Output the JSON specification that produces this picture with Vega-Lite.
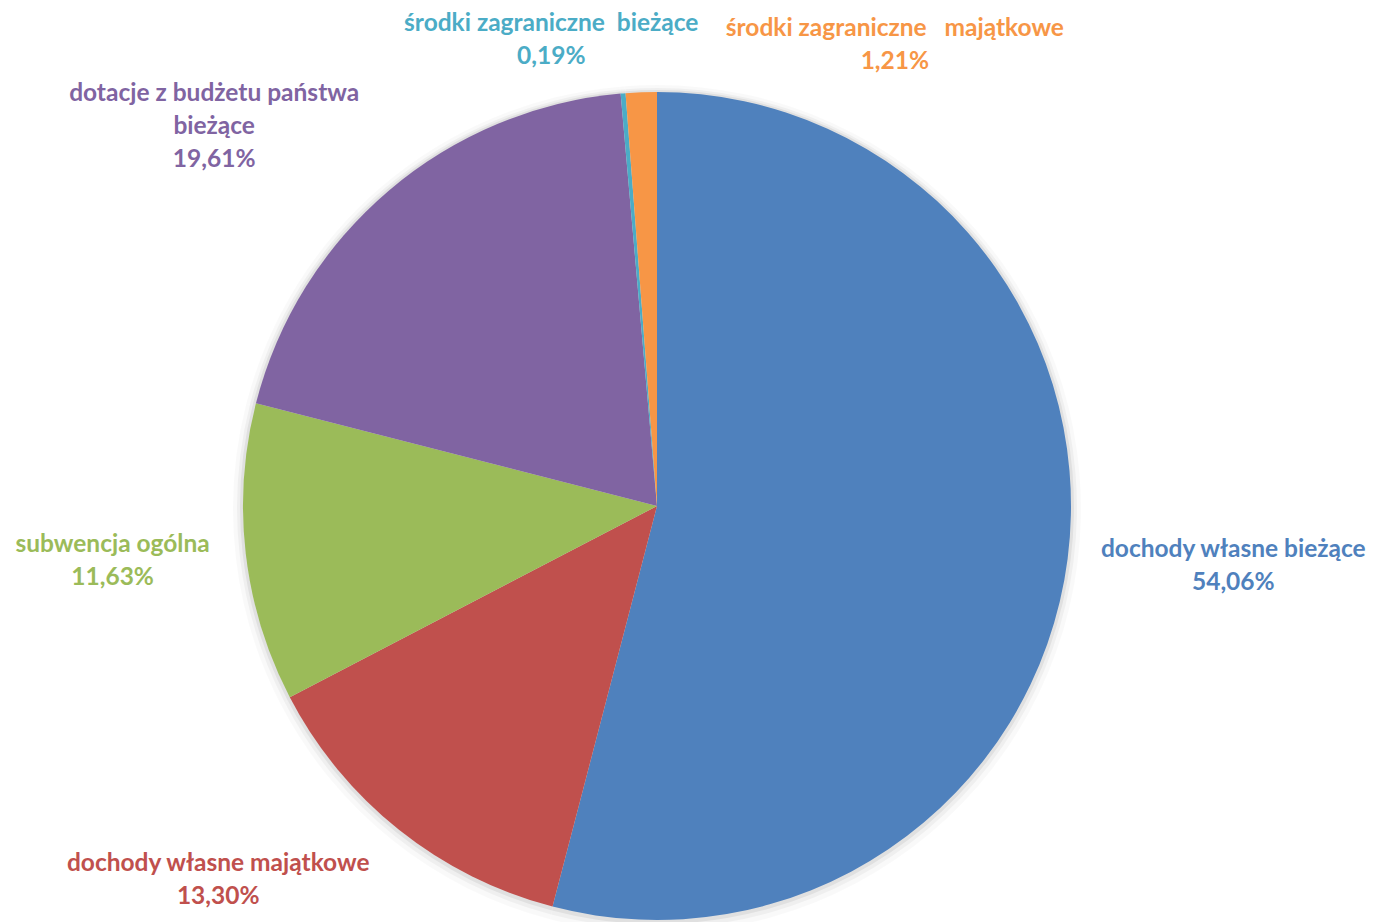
{
  "$schema": "https://vega.github.io/schema/vega-lite/v6.json",
  "autosize": {"type": "none"},
  "width": 828,
  "height": 828,
  "padding": {"left": 243, "top": 92, "right": 302, "bottom": 2},
  "background": "white",
  "config": {"view": {"stroke": null}},
  "data": {"values": [
    {"ord": 1, "cat": "dochody własne bieżące", "value": 54.06, "label": "dochody własne bieżące\n54,06%"},
    {"ord": 2, "cat": "dochody własne majątkowe", "value": 13.30, "label": "dochody własne majątkowe\n13,30%"},
    {"ord": 3, "cat": "subwencja ogólna", "value": 11.63, "label": "subwencja ogólna\n11,63%"},
    {"ord": 4, "cat": "dotacje z budżetu państwa bieżące", "value": 19.61, "label": "dotacje z budżetu państwa\nbieżące\n19,61%"},
    {"ord": 5, "cat": "środki zagraniczne bieżące", "value": 0.19, "label": "środki zagraniczne\u00a0 bieżące\n0,19%"},
    {"ord": 6, "cat": "środki zagraniczne majątkowe", "value": 1.21, "label": "środki zagraniczne\u00a0 \u00a0majątkowe\n1,21%"}
  ]},
  "encoding": {
    "theta": {"field": "value", "type": "quantitative", "stack": true},
    "order": {"field": "ord", "type": "quantitative"},
    "color": {
      "field": "cat", "type": "nominal", "legend": null,
      "scale": {
        "domain": ["dochody własne bieżące", "dochody własne majątkowe", "subwencja ogólna", "dotacje z budżetu państwa bieżące", "środki zagraniczne bieżące", "środki zagraniczne majątkowe"],
        "range": ["#4F81BD", "#C0504D", "#9BBB59", "#8064A2", "#4BACC6", "#F79646"]
      }
    }
  },
  "layer": [
    {"mark": {"type": "arc", "radius": 424, "opacity": 0.025, "yOffset": 3}, "encoding": {"color": {"value": "#000000"}}},
    {"mark": {"type": "arc", "radius": 420, "opacity": 0.04, "yOffset": 2}, "encoding": {"color": {"value": "#000000"}}},
    {"mark": {"type": "arc", "radius": 417, "opacity": 0.06, "yOffset": 1}, "encoding": {"color": {"value": "#000000"}}},
    {"mark": {"type": "arc", "radius": 414}},
    {"mark": {"type": "text", "radius": 579, "dx": 2, "dy": -30, "font": "Lato", "fontWeight": "bold", "fontSize": 24.5, "lineBreak": "\n", "lineHeight": 33, "align": "center", "baseline": "middle"},
     "encoding": {"text": {"condition": {"test": "datum.ord == 1", "field": "label"}, "value": ""}}},
    {"mark": {"type": "text", "radius": 566, "dx": -86, "dy": -85, "font": "Lato", "fontWeight": "bold", "fontSize": 24.5, "lineBreak": "\n", "lineHeight": 33, "align": "center", "baseline": "middle"},
     "encoding": {"text": {"condition": {"test": "datum.ord == 2", "field": "label"}, "value": ""}}},
    {"mark": {"type": "text", "radius": 547, "dx": -1, "dy": -24, "font": "Lato", "fontWeight": "bold", "fontSize": 24.5, "lineBreak": "\n", "lineHeight": 33, "align": "center", "baseline": "middle"},
     "encoding": {"text": {"condition": {"test": "datum.ord == 3", "field": "label"}, "value": ""}}},
    {"mark": {"type": "text", "radius": 576, "dx": -70, "dy": 27, "font": "Lato", "fontWeight": "bold", "fontSize": 24.5, "lineBreak": "\n", "lineHeight": 33, "align": "center", "baseline": "middle"},
     "encoding": {"text": {"condition": {"test": "datum.ord == 4", "field": "label"}, "value": ""}}},
    {"mark": {"type": "text", "radius": 473, "dx": -67, "dy": -11, "font": "Lato", "fontWeight": "bold", "fontSize": 24.5, "lineBreak": "\n", "lineHeight": 33, "align": "center", "baseline": "middle"},
     "encoding": {"text": {"condition": {"test": "datum.ord == 5", "field": "label"}, "value": ""}}},
    {"mark": {"type": "text", "radius": 451, "dx": 255, "dy": -26, "font": "Lato", "fontWeight": "bold", "fontSize": 24.5, "lineBreak": "\n", "lineHeight": 33, "align": "center", "baseline": "middle"},
     "encoding": {"text": {"condition": {"test": "datum.ord == 6", "field": "label"}, "value": ""}}}
  ]
}
